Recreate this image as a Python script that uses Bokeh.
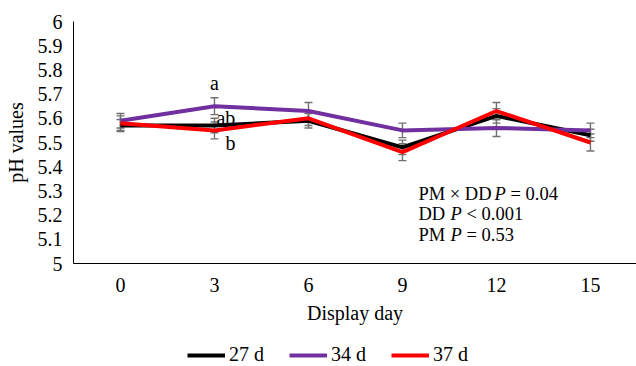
from bokeh.plotting import figure
from bokeh.layouts import column
from bokeh.models import (Legend, LegendItem, Whisker, ColumnDataSource, Label,
                          FixedTicker, Range1d, NumeralTickFormatter, TeeHead)
from bokeh.embed import file_html
from bokeh.resources import INLINE

# ---- data ----
days = [0, 3, 6, 9, 12, 15]
ph_27 = [5.57, 5.57, 5.59, 5.48, 5.61, 5.53]
ph_34 = [5.59, 5.65, 5.63, 5.55, 5.56, 5.55]
ph_37 = [5.58, 5.55, 5.60, 5.46, 5.63, 5.50]
se_27 = [0.025, 0.03, 0.03, 0.03, 0.03, 0.025]
se_34 = [0.03, 0.035, 0.035, 0.03, 0.035, 0.03]
se_37 = [0.03, 0.035, 0.03, 0.035, 0.035, 0.035]
series_names = ["27 d", "34 d", "37 d"]
colors = ["#000000", "#7030A0", "#FF0000"]
y_ticks = [5.0, 5.1, 5.2, 5.3, 5.4, 5.5, 5.6, 5.7, 5.8, 5.9, 6.0]
sig_letters = ["a", "ab", "b"]
sig_y = [5.744, 5.603, 5.50]
stats_lines = [("PM × DD", "P", "= 0.04"), ("DD", "P", "< 0.001"), ("PM", "P", "= 0.53")]

FONT = "Liberation Serif"
FS = "20px"
FS_STAT = "18.5px"

p = figure(width=636, height=332, x_range=Range1d(-1.5, 16.47), y_range=Range1d(5, 6),
           output_backend="svg", toolbar_location=None,
           min_border_left=73, min_border_top=21, min_border_right=0, min_border_bottom=69)
p.outline_line_color = None
p.grid.grid_line_color = None

for ax in (p.xaxis[0], p.yaxis[0]):
    ax.major_tick_in = 0
    ax.major_tick_out = 0
    ax.minor_tick_in = 0
    ax.minor_tick_out = 0
    ax.axis_line_color = "#000000"
    ax.axis_line_width = 1
    ax.major_label_text_font = FONT
    ax.major_label_text_font_size = FS
    ax.major_label_text_color = "#000000"
    ax.axis_label_text_font = FONT
    ax.axis_label_text_font_size = FS
    ax.axis_label_text_font_style = "normal"
    ax.axis_label_text_color = "#000000"

p.xaxis.ticker = FixedTicker(ticks=days)
p.xaxis.axis_label = "Display day"
p.xaxis.major_label_standoff = 14
p.xaxis.axis_label_standoff = 7
p.yaxis.ticker = FixedTicker(ticks=y_ticks)
p.yaxis.formatter = NumeralTickFormatter(format="0.[0]")
p.yaxis.axis_label = "pH values"
p.yaxis.major_label_standoff = 11
p.yaxis.axis_label_standoff = 8

all_vals = [ph_27, ph_34, ph_37]
for vals, col in zip(all_vals, colors):
    p.line(days, vals, line_color=col, line_width=4)

for vals, se in zip(all_vals, [se_27, se_34, se_37]):
    src = ColumnDataSource(dict(x=days,
                                upper=[v + e for v, e in zip(vals, se)],
                                lower=[v - e for v, e in zip(vals, se)]))
    w = Whisker(base="x", upper="upper", lower="lower", source=src,
                line_color="#707070", line_width=1.4,
                upper_head=TeeHead(size=8, line_color="#707070", line_width=1.4),
                lower_head=TeeHead(size=8, line_color="#707070", line_width=1.4))
    p.add_layout(w)

# significance letters at day 3
x_offs = [0, 2, 11]
aligns = ["center", "left", "left"]
for t, yv, xo, al in zip(sig_letters, sig_y, x_offs, aligns):
    p.add_layout(Label(x=days[1], y=yv, x_offset=xo, text=t, text_font=FONT,
                       text_font_size=FS, text_align=al, text_baseline="middle",
                       text_color="#000000"))

# statistics text
stat_y = [5.289, 5.2025, 5.116]
offsets = [(0, 76, 92), (0, 32, 48), (0, 32, 48)]
for (a, b, c), yv, offs in zip(stats_lines, stat_y, offsets):
    for t, xo, st in zip((a, b, c), offs, ("normal", "italic", "normal")):
        p.add_layout(Label(x=9.51, y=yv, x_offset=xo, text=t, text_font=FONT,
                           text_font_size=FS_STAT, text_font_style=st,
                           text_align="left", text_baseline="middle",
                           text_color="#000000"))

# legend strip (series drawn out of view, only their legend entries show)
lg = figure(width=636, height=34, output_backend="svg", toolbar_location=None,
            x_range=Range1d(-1.5, 16.47), y_range=Range1d(0, 1),
            x_axis_location=None, y_axis_location=None,
            min_border_left=73, min_border_right=0, min_border_top=0, min_border_bottom=0)
lg.outline_line_color = None
lg.grid.grid_line_color = None
leg_renderers = [lg.line(days, vals, line_color=c, line_width=4) for vals, c in zip(all_vals, colors)]
legend = Legend(items=[LegendItem(label=n, renderers=[r]) for n, r in zip(series_names, leg_renderers)],
                orientation="horizontal", location=(114, 0),
                label_text_font=FONT, label_text_font_size=FS, label_text_color="#000000",
                glyph_width=38, glyph_height=18, label_standoff=4, spacing=25,
                padding=0, margin=0, border_line_alpha=0, background_fill_alpha=0)
lg.add_layout(legend, "center")

layout = column(p, lg)
open("out.html", "w").write(file_html(layout, INLINE))
